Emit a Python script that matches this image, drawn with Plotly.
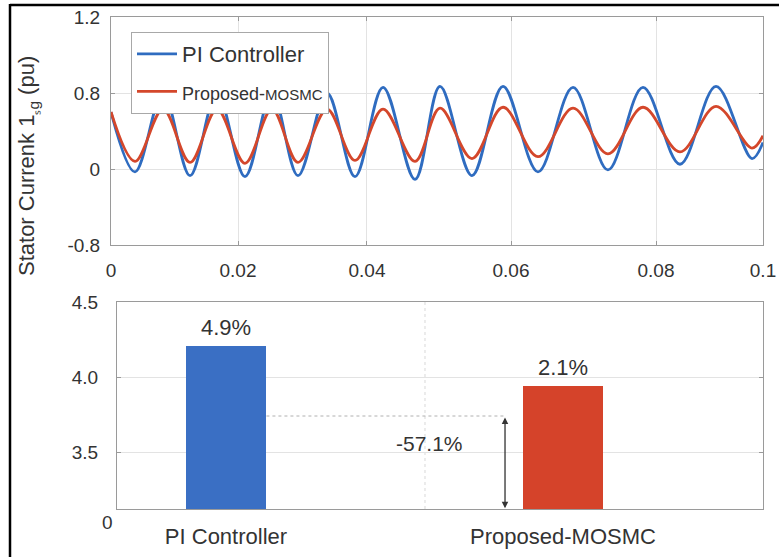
import plotly.graph_objects as go

# ---------------- data ----------------
# top panel: stator current (peaks / troughs)
time_s = [0, 0.00368, 0.00798, 0.01212, 0.01626, 0.02055, 0.02469, 0.02868,
          0.03313, 0.03742, 0.04172, 0.04663, 0.05046, 0.05537, 0.06012,
          0.06549, 0.07086, 0.07622, 0.08159, 0.08727, 0.09279, 0.09831, 0.1]
pi_current = [0.60, -0.03, 0.80, -0.07, 0.80, -0.08, 0.80, -0.07, 0.80, -0.08,
              0.86, -0.11, 0.87, -0.07, 0.87, -0.03, 0.86, -0.01, 0.86, 0.05,
              0.87, 0.11, 0.28]
mosmc_current = [0.60, 0.08, 0.63, 0.07, 0.63, 0.06, 0.63, 0.07, 0.63, 0.09,
                 0.63, 0.08, 0.64, 0.11, 0.65, 0.13, 0.64, 0.16, 0.65, 0.18,
                 0.66, 0.22, 0.35]
time_tick_pos = [0, 0.01948, 0.03926, 0.06135, 0.08359, 0.1]
time_tick_text = ["0", "0.02", "0.04", "0.06", "0.08", "0.1"]
cur_tick_pos = [-0.8, 0, 0.8, 1.6]
cur_tick_text = ["-0.8", "0", "0.8", "1.2"]

# bottom panel: THD bars
controllers = ["PI Controller", "Proposed-MOSMC"]
bar_pos = [0, 1]
bar_heights = [4.21, 3.94]
thd_labels = ["4.9%", "2.1%"]
reduction_label = "-57.1%"
reduction_level = 3.74
thd_tick_pos = [3.5, 4.0, 4.5]
thd_tick_text = ["3.5", "4.0", "4.5"]

BLUE_LINE = "#2f6cc0"
RED_LINE = "#d4472b"
BLUE_BAR = "#3a6fc4"
RED_BAR = "#d5432a"
FONT = "Liberation Sans, Arial, sans-serif"
TXT = "#333333"
GRID = "#e3e3e3"
FRAME = "#9a9a9a"

fig = go.Figure()

fig.add_trace(go.Scatter(
    x=time_s, y=pi_current, mode="lines", name="PI Controller",
    line=dict(color=BLUE_LINE, width=2.8, shape="spline", smoothing=1.0),
    legendgroup="a", xaxis="x", yaxis="y"))
fig.add_trace(go.Scatter(
    x=time_s, y=mosmc_current, mode="lines",
    name="<span style='font-size:18px'>Proposed-</span><span style='font-size:15px'>MOSMC</span>",
    line=dict(color=RED_LINE, width=2.8, shape="spline", smoothing=1.0),
    legendgroup="b", xaxis="x", yaxis="y"))

fig.add_trace(go.Bar(
    x=bar_pos, y=bar_heights, width=0.24,
    marker=dict(color=[BLUE_BAR, RED_BAR], line=dict(width=0)),
    showlegend=False, xaxis="x2", yaxis="y2"))

annotations = []
for xp, h, lab in zip(bar_pos, bar_heights, thd_labels):
    annotations.append(dict(x=xp, y=h, xref="x2", yref="y2", text=lab,
                            showarrow=False, xanchor="center", yanchor="bottom",
                            yshift=4, font=dict(family=FONT, size=22, color=TXT)))
annotations.append(dict(x=0.605, y=3.56, xref="x2", yref="y2", text=reduction_label,
                        showarrow=False, xanchor="center", yanchor="middle",
                        font=dict(family=FONT, size=21, color=TXT)))
# double-headed arrow
annotations.append(dict(x=0.828, y=3.125, xref="x2", yref="y2",
                        ax=0.828, ay=reduction_level, axref="x2", ayref="y2",
                        text="", showarrow=True, arrowhead=2, startarrowhead=2,
                        arrowside="end+start", arrowsize=1, arrowwidth=1.3,
                        arrowcolor="#333333"))
# the "0" label of the broken axis
annotations.append(dict(x=107 / 779, y=1 - 522 / 557, xref="paper", yref="paper",
                        text="0", showarrow=False, xanchor="center", yanchor="middle",
                        font=dict(family=FONT, size=19, color=TXT)))
# y title of the top panel
annotations.append(dict(x=28 / 779, y=1 - 166 / 557, xref="paper", yref="paper",
                        text="Stator Currenk 1<sub>ₛg</sub> (pu)", textangle=-90,
                        showarrow=False, xanchor="center", yanchor="middle",
                        font=dict(family=FONT, size=22, color=TXT)))

shapes = [
    # dashed reference line
    dict(type="line", xref="x2", yref="y2", x0=0.12, x1=0.828,
         y0=reduction_level, y1=reduction_level,
         line=dict(color="#b0b0b0", width=1, dash="dot")),
    # vertical dotted grid line of lower panel
    dict(type="line", xref="x2", yref="paper", x0=0.5905, x1=0.5905,
         y0=1 - 509 / 557, y1=1 - 302 / 557,
         line=dict(color="#d8d8d8", width=1, dash="dot"), layer="below"),
    # image frame (left and top black edges)
    dict(type="line", xref="paper", yref="paper", x0=10 / 779, x1=10 / 779,
         y0=0, y1=1 - 4 / 557, line=dict(color="black", width=2.5)),
    dict(type="line", xref="paper", yref="paper", x0=10 / 779, x1=1,
         y0=1 - 5 / 557, y1=1 - 5 / 557, line=dict(color="black", width=2.5)),
]

fig.update_layout(
    width=779, height=557,
    margin=dict(l=0, r=0, t=0, b=0, autoexpand=False),
    paper_bgcolor="white", plot_bgcolor="white",
    font=dict(family=FONT, size=18, color=TXT),
    xaxis=dict(domain=[111 / 779, 763 / 779], range=[0, 0.1],
               tickvals=time_tick_pos, ticktext=time_tick_text,
               ticks="inside", ticklen=4, tickcolor=FRAME,
               showgrid=True, gridcolor=GRID, zeroline=False,
               showline=True, linecolor=FRAME, linewidth=1, mirror="ticks",
               anchor="y", ticklabelstandoff=8, automargin=False,
               tickfont=dict(family=FONT, size=19, color=TXT)),
    yaxis=dict(domain=[1 - 245 / 557, 1 - 17 / 557], range=[-0.8, 1.6],
               tickvals=cur_tick_pos, ticktext=cur_tick_text,
               ticks="inside", ticklen=4, tickcolor=FRAME,
               showgrid=True, gridcolor=GRID, zeroline=False,
               showline=True, linecolor=FRAME, linewidth=1, mirror="ticks",
               anchor="x", ticklabelstandoff=6, automargin=False,
               tickfont=dict(family=FONT, size=19, color=TXT)),
    xaxis2=dict(domain=[117 / 779, 763 / 779], range=[-0.3234, 1.5935],
                tickvals=bar_pos, ticktext=controllers, ticks="",
                showgrid=False, zeroline=False,
                showline=True, linecolor=FRAME, linewidth=1, mirror=True,
                anchor="y2", ticklabelstandoff=8, automargin=False,
                tickfont=dict(family=FONT, size=22, color=TXT)),
    yaxis2=dict(domain=[1 - 509 / 557, 1 - 302 / 557], range=[3.12, 4.5],
                tickvals=thd_tick_pos, ticktext=thd_tick_text,
                ticks="inside", ticklen=4, tickcolor=FRAME,
                showgrid=True, gridcolor=GRID, zeroline=False,
                showline=True, linecolor=FRAME, linewidth=1, mirror="ticks",
                anchor="x2", ticklabelstandoff=14, automargin=False,
                tickfont=dict(family=FONT, size=19, color=TXT)),
    legend=dict(x=131 / 779, y=1 - 32 / 557, xanchor="left", yanchor="top",
                bgcolor="white", bordercolor="#a8a8a8", borderwidth=1,
                font=dict(family=FONT, size=22, color=TXT),
                tracegroupgap=6, itemwidth=40),
    annotations=annotations,
    shapes=shapes,
    bargap=0,
)

fig.write_html("out.html", config={"displayModeBar": False},
               post_script="document.body.style.margin='0';document.body.style.padding='0';")
